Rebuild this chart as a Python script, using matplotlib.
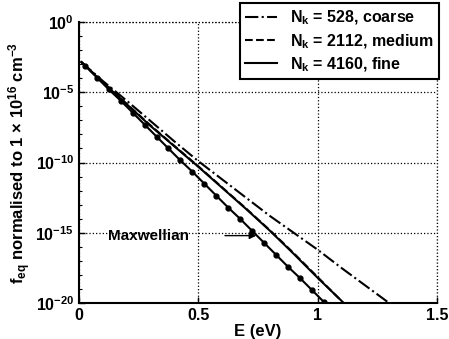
import matplotlib.pyplot as plt
import numpy as np
from matplotlib.ticker import LogLocator, NullFormatter, FixedLocator

plt.rcParams['font.family'] = 'Liberation Sans'
plt.rcParams['font.weight'] = 'bold'
plt.rcParams['mathtext.fontset'] = 'custom'
plt.rcParams['mathtext.rm'] = 'Liberation Sans:bold'
plt.rcParams['mathtext.it'] = 'Liberation Sans:bold'
plt.rcParams['mathtext.bf'] = 'Liberation Sans:bold'

# log10 of f_eq versus energy (eV)
E_coarse = [0.01, 0.1, 0.2, 0.3, 0.4, 0.5, 0.6, 0.7, 0.8, 0.9, 1.0, 1.1, 1.2, 1.3]
f_coarse = [-2.85, -4.2, -5.6, -7.05, -8.5, -9.9, -11.2, -12.5, -13.8, -15.0, -16.2, -17.5, -18.75, -20.0]

E_medium = [0.01, 0.1, 0.2, 0.3, 0.4, 0.5, 0.6, 0.7, 0.8, 0.9, 1.0, 1.1]
f_medium = [-2.85, -4.28, -5.83, -7.36, -8.82, -10.27, -11.77, -13.27, -14.82, -16.45, -18.15, -19.85]

E_fine = [0.01, 0.1, 0.2, 0.3, 0.4, 0.5, 0.6, 0.7, 0.8, 0.9, 1.0, 1.11]
f_fine = [-2.85, -4.3, -5.85, -7.4, -8.85, -10.3, -11.8, -13.3, -14.85, -16.5, -18.2, -20.0]

E_maxw = [0.01, 0.025, 0.075, 0.125, 0.175, 0.225, 0.275, 0.325, 0.375, 0.425, 0.475,
          0.525, 0.575, 0.625, 0.675, 0.725, 0.775, 0.825, 0.875, 0.925, 0.975, 1.025]
f_maxw = [-2.85, -3.1, -3.95, -4.8, -5.6, -6.45, -7.3, -8.15, -9.0, -9.85, -10.65,
          -11.5, -12.35, -13.2, -14.0, -14.85, -15.7, -16.55, -17.4, -18.2, -19.05, -19.9]

fig = plt.figure(figsize=(4.49, 3.39), dpi=100)
ax = fig.add_axes([0.176, 0.106, 0.797, 0.829])

ax.semilogy(E_coarse, 10.0 ** np.array(f_coarse), 'k-.', lw=1.5,
            label=r'N$_k$ = 528, coarse')
ax.semilogy(E_medium, 10.0 ** np.array(f_medium), 'k--', lw=1.5,
            label=r'N$_k$ = 2112, medium')
ax.semilogy(E_fine, 10.0 ** np.array(f_fine), 'k-', lw=1.5,
            label=r'N$_k$ = 4160, fine')
ax.semilogy(E_maxw, 10.0 ** np.array(f_maxw), 'k-', lw=1.5)
ax.semilogy(E_maxw[1:], 10.0 ** np.array(f_maxw[1:]), 'ko', ms=3.5)

ax.set_xlim(0, 1.5)
ax.set_ylim(1e-20, 1e0)
ax.xaxis.set_major_locator(FixedLocator([0, 0.5, 1, 1.5]))
ax.set_xticklabels(['0', '0.5', '1', '1.5'], fontweight='bold')
ax.yaxis.set_major_locator(FixedLocator([1e-20, 1e-15, 1e-10, 1e-5, 1e0]))
ax.set_yticklabels([r'10$^{-20}$', r'10$^{-15}$', r'10$^{-10}$', r'10$^{-5}$', r'10$^{0}$'])
ax.yaxis.set_minor_locator(LogLocator(base=10, subs=[1.0], numticks=30))
ax.yaxis.set_minor_formatter(NullFormatter())
ax.tick_params(which='both', direction='in', labelsize=11.5)
ax.tick_params(which='major', length=4, width=1)
ax.tick_params(which='minor', length=2.5, width=0.8)
ax.tick_params(axis='y', which='both', right=False)

ax.grid(True, which='major', ls=':', color='k', lw=0.9)
ax.spines['top'].set_visible(False)
ax.spines['right'].set_visible(False)
ax.spines['left'].set_linewidth(1.5)
ax.spines['bottom'].set_linewidth(1.5)
# dotted frame on the open sides
ax.axhline(1e0, ls=':', color='k', lw=0.9, clip_on=False)
ax.axvline(1.5, ls=':', color='k', lw=0.9, clip_on=False)

ax.set_xlabel('E (eV)', fontsize=12, fontweight='bold', labelpad=1)
ax.set_ylabel(r'f$_{eq}$ normalised to 1 $\times$ 10$^{16}$ cm$^{-3}$',
              fontsize=12, fontweight='bold', labelpad=2)

ax.annotate('', xy=(0.755, 10 ** -15.2), xytext=(0.60, 10 ** -15.2),
            arrowprops=dict(arrowstyle='-|>', color='k', lw=1.0, mutation_scale=10))
ax.text(0.12, 10 ** -15.2, 'Maxwellian', fontsize=11, fontweight='bold',
        va='center', ha='left')

leg = ax.legend(loc='upper right', bbox_to_anchor=(0.978, 0.99),
                bbox_transform=fig.transFigure, fontsize=11.5, fancybox=False,
                framealpha=1, edgecolor='k', handlelength=2.0, borderpad=0.35,
                labelspacing=0.3, handletextpad=0.8, borderaxespad=0)
leg.get_frame().set_linewidth(1.5)
for t in leg.get_texts():
    t.set_fontweight('bold')

fig.savefig('out.png', dpi=100)
